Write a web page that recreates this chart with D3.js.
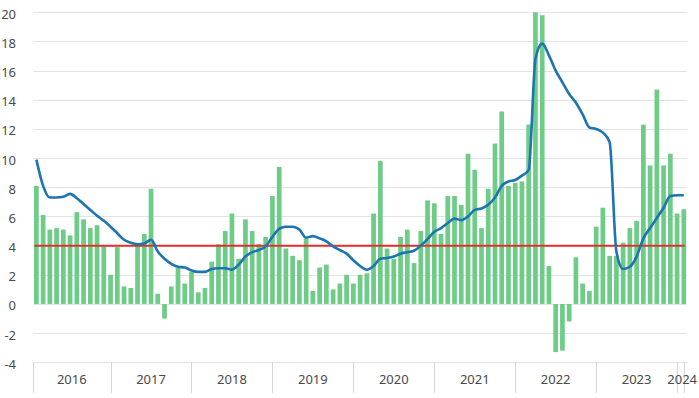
<!DOCTYPE html>
<html>
<head>
<meta charset="utf-8">
<script src="https://cdn.jsdelivr.net/npm/d3@7"></script>
<style>
  html, body { margin: 0; padding: 0; background: #fff; }
  svg { display: block; }
  text { font-family: "Noto Sans", "DejaVu Sans", sans-serif; fill: #4a4a4a; }
</style>
</head>
<body>
<svg id="chart" width="699" height="398"></svg>
<script>
// Year groups and number of months in each group (data from Jan 2016 to Jan 2024)
const years = ["2016", "2017", "2018", "2019", "2020", "2021", "2022", "2023", "2024"];
const monthsPerYear = [12, 12, 12, 12, 12, 12, 12, 12, 1];

// Monthly values (bars)
const barValues = [
  8.1, 6.1, 5.1, 5.2, 5.1, 4.7, 6.3, 5.8, 5.2, 5.4, 4.0, 2.0,
  3.9, 1.2, 1.1, 4.0, 4.8, 7.9, 0.7, -1.0, 1.2, 2.5, 1.4, 2.2,
  0.8, 1.1, 2.9, 4.1, 5.0, 6.2, 3.1, 5.8, 5.0, 4.1, 4.6, 7.4,
  9.4, 3.8, 3.3, 3.0, 4.5, 0.9, 2.5, 2.7, 1.0, 1.4, 2.0, 1.4,
  2.0, 2.1, 6.2, 9.8, 3.8, 3.1, 4.6, 5.1, 2.8, 5.0, 7.1, 6.9,
  4.8, 7.4, 7.4, 6.8, 10.3, 9.2, 5.2, 7.9, 11.0, 13.2, 8.1, 8.3,
  8.4, 12.3, 20.0, 19.8, 2.6, -3.3, -3.2, -1.2, 3.2, 1.4, 0.9, 5.3,
  6.6, 3.3, 3.3, 4.2, 5.2, 5.7, 12.3, 9.5, 14.7, 9.5, 10.3, 6.2,
  6.5
];

// Smoothed trend (blue line)
const lineValues = [
  9.9, 8.1, 7.3, 7.3, 7.35, 7.55, 7.25, 6.85, 6.45, 6.05, 5.7, 5.3,
  4.85, 4.4, 4.2, 4.1, 4.15, 4.4, 3.6, 3.1, 2.75, 2.55, 2.5, 2.3,
  2.2, 2.2, 2.4, 2.45, 2.45, 2.35, 2.7, 3.25, 3.55, 3.7, 3.95, 4.6,
  5.15, 5.3, 5.3, 5.1, 4.55, 4.65, 4.5, 4.3, 3.95, 3.7, 3.45, 3.0,
  2.6, 2.35, 2.6, 3.1, 3.15, 3.25, 3.45, 3.55, 3.65, 4.0, 4.45, 4.95,
  5.2, 5.55, 5.85, 5.75, 6.0, 6.45, 6.55, 6.8, 7.3, 8.1, 8.4, 8.5,
  8.8, 9.2, 16.8, 17.85, 17.05, 16.0, 15.2, 14.4, 13.8, 13.0, 12.1, 12.0,
  11.75, 11.1, 3.6, 2.4, 2.55, 3.25, 4.5, 5.2, 5.9, 6.6, 7.4, 7.45,
  7.45
];

// Reference level (red line)
const referenceLevel = 4;

// Y ticks
const yTicks = [-4, -2, 0, 2, 4, 6, 8, 10, 12, 14, 16, 18, 20];

const svg = d3.select("#chart");
const mLeft = 33, mRight = 687.2, mTop = 12.3, mBottom = 362.3;

const idx = d3.range(barValues.length);
const x = d3.scaleBand().domain(idx).range([mLeft, mRight]).paddingInner(0.3).paddingOuter(0.15);
const cx = i => x(i) + x.bandwidth() / 2;
const y = d3.scaleLinear().domain([-4, 20]).range([mBottom, mTop]);

// gridlines
svg.append("g").selectAll("line").data(yTicks).join("line")
  .attr("x1", mLeft).attr("x2", mRight)
  .attr("y1", d => Math.round(y(d)) + 0.5).attr("y2", d => Math.round(y(d)) + 0.5)
  .attr("stroke", "#e3e3e3").attr("stroke-width", 1);

// y labels
svg.append("g").selectAll("text").data(yTicks).join("text")
  .attr("x", 16).attr("y", d => y(d) + 1.5)
  .attr("text-anchor", "end").attr("dominant-baseline", "central")
  .attr("font-size", 13)
  .text(d => d);

// bars
svg.append("g").selectAll("rect").data(barValues).join("rect")
  .attr("x", (d, i) => x(i))
  .attr("width", x.bandwidth())
  .attr("y", d => y(Math.max(0, d)))
  .attr("height", d => Math.abs(y(d) - y(0)))
  .attr("fill", "#6fcc88");

// reference line
svg.append("line")
  .attr("x1", cx(0) - 2).attr("x2", cx(barValues.length - 1) + 1)
  .attr("y1", y(referenceLevel)).attr("y2", y(referenceLevel))
  .attr("stroke", "#e3312d").attr("stroke-width", 2);

// trend line
svg.append("path")
  .datum(lineValues)
  .attr("fill", "none")
  .attr("stroke", "#1c74b0")
  .attr("stroke-width", 2.6)
  .attr("stroke-linejoin", "round")
  .attr("d", d3.line().x((d, i) => cx(i)).y(d => y(d)).curve(d3.curveMonotoneX));

// category axis: year groups with dividers
const bounds = [mLeft];
let acc = 0;
monthsPerYear.forEach((n) => { acc += n; bounds.push(cx(acc - 1)); });
const axG = svg.append("g");
axG.selectAll("line").data(bounds).join("line")
  .attr("x1", d => Math.round(d) + 0.5).attr("x2", d => Math.round(d) + 0.5)
  .attr("y1", mBottom).attr("y2", 393)
  .attr("stroke", "#d6d6d6").attr("stroke-width", 1);
axG.selectAll("text").data(years).join("text")
  .attr("x", (d, i) => i === years.length - 1 ? (bounds[i] + mRight) / 2 : (bounds[i] + bounds[i + 1]) / 2)
  .attr("y", 378.5)
  .attr("text-anchor", "middle").attr("dominant-baseline", "central")
  .attr("font-size", 13)
  .text(d => d);
</script>
</body>
</html>
